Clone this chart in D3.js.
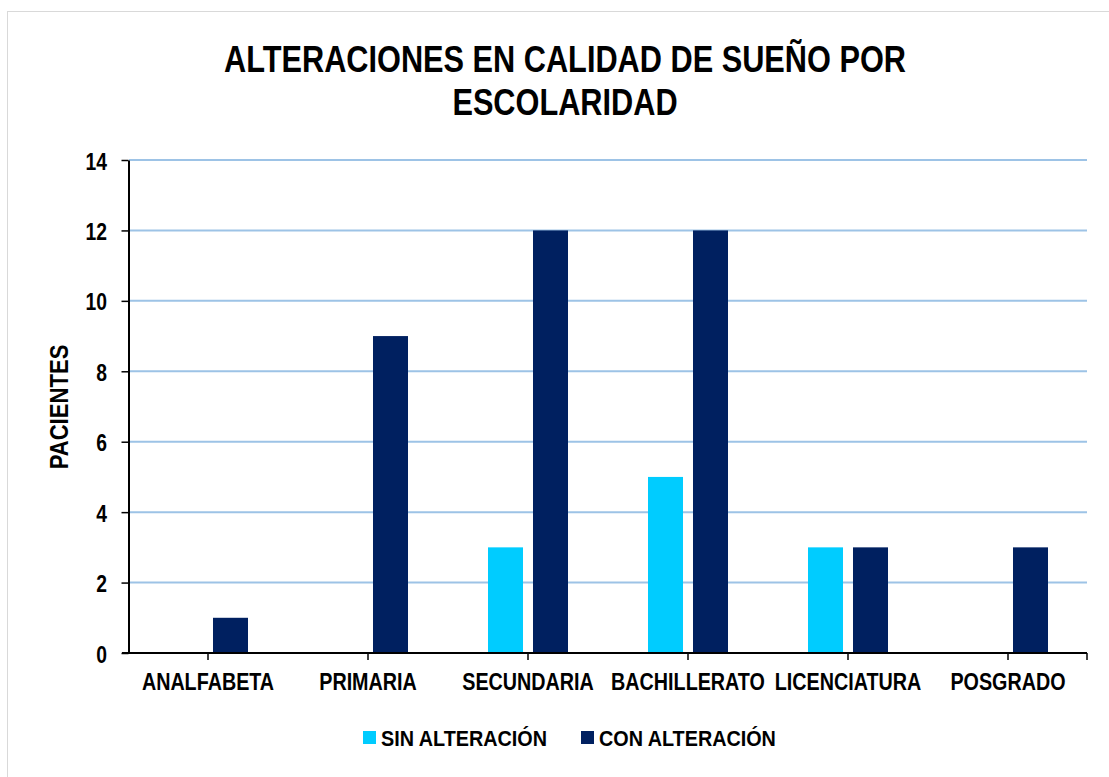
<!DOCTYPE html>
<html>
<head>
<meta charset="utf-8">
<script src="https://cdn.jsdelivr.net/npm/d3@7"></script>
<style>
  html, body { margin: 0; padding: 0; background: #fff; }
  text { font-family: "Liberation Sans Narrow", "Arial Narrow", "Liberation Sans", Arial, sans-serif; font-weight: bold; }
</style>
</head>
<body>
<script>
// chart values
const categories = ["ANALFABETA", "PRIMARIA", "SECUNDARIA", "BACHILLERATO", "LICENCIATURA", "POSGRADO"];
const seriesNames = ["SIN ALTERACIÓN", "CON ALTERACIÓN"];
const sinAlteracion = [0, 0, 3, 5, 3, 0];
const conAlteracion = [1, 9, 12, 12, 3, 3];
const yTicks = [0, 2, 4, 6, 8, 10, 12, 14];
const colors = ["#00CCFF", "#002060"];

const W = 1109, H = 777;
const NARROW = 0.84; // no narrow font installed, so squeeze the bold sans

const svg = d3.select("body").append("svg")
  .attr("width", W)
  .attr("height", H);

// helper: condensed text placed at (x, y)
function narrowText(parent, x, y, str, size, anchor, sx, rot) {
  const g = parent.append("g")
    .attr("transform", `translate(${x},${y})` + (rot ? ` rotate(${rot})` : "") + ` scale(${sx || NARROW},1)`);
  return g.append("text")
    .attr("text-anchor", anchor || "start")
    .attr("font-size", size)
    .attr("fill", "#000")
    .text(str);
}

// outer chart border (runs off the picture on the right and bottom)
svg.append("rect")
  .attr("x", 7.5).attr("y", 11.5)
  .attr("width", 1120).attr("height", 790)
  .attr("fill", "#fff")
  .attr("stroke", "#d9d9d9");

const plotL = 128, plotR = 1088, plotT = 160, plotB = 653;

const x = d3.scaleBand().domain(categories).range([plotL, plotR]);
const xs = d3.scaleBand().domain(seriesNames).range([40, 120]).paddingInner(0.222);
const y = d3.scaleLinear().domain([0, 14]).range([plotB, plotT]);

// gridlines
svg.append("g")
  .selectAll("line")
  .data(yTicks.filter(d => d > 0))
  .join("line")
  .attr("x1", plotL + 1).attr("x2", plotR - 1)
  .attr("y1", d => y(d)).attr("y2", d => y(d))
  .attr("stroke", "#9dc3e6")
  .attr("stroke-width", 2);

// bars
const rows = categories.map((c, i) => ({ cat: c, vals: [sinAlteracion[i], conAlteracion[i]] }));
svg.append("g")
  .selectAll("g")
  .data(rows)
  .join("g")
  .attr("transform", d => `translate(${x(d.cat)},0)`)
  .selectAll("rect")
  .data(d => d.vals.map((v, j) => ({ key: seriesNames[j], v, j })))
  .join("rect")
  .attr("x", d => xs(d.key))
  .attr("width", xs.bandwidth())
  .attr("y", d => y(d.v))
  .attr("height", d => y(0) - y(d.v))
  .attr("fill", d => colors[d.j]);

// y axis
const yAxis = svg.append("g")
  .attr("transform", `translate(${plotL + 0.5},0)`)
  .call(d3.axisLeft(y).tickValues(yTicks).tickSize(7).tickSizeOuter(0));
yAxis.select(".domain").attr("stroke", "#000").attr("stroke-width", 2);
yAxis.selectAll(".tick line").attr("stroke", "#000").attr("stroke-width", 1.5);
yAxis.selectAll(".tick text")
  .attr("font-size", 23)
  .attr("font-family", null)
  .attr("fill", "#000")
  .attr("x", -21.5 / NARROW)
  .attr("dy", 9)
  .attr("transform", `scale(${NARROW},1)`);

// x axis: ticks at category centres plus one at the right end
const xAxisG = svg.append("g").attr("transform", `translate(0,${plotB})`);
xAxisG.append("line")
  .attr("x1", plotL - 6).attr("x2", plotR - 1)
  .attr("stroke", "#000").attr("stroke-width", 2);
const tickXs = categories.map(c => x(c) + x.bandwidth() / 2).concat([plotR - 1]);
xAxisG.selectAll(".xt")
  .data(tickXs)
  .join("line")
  .attr("class", "xt")
  .attr("x1", d => d).attr("x2", d => d)
  .attr("y1", 0).attr("y2", 7)
  .attr("stroke", "#000").attr("stroke-width", 1.5);
categories.forEach(c => {
  narrowText(xAxisG, x(c) + x.bandwidth() / 2, 37, c, 23.5, "middle");
});

// title
narrowText(svg, 565, 72, "ALTERACIONES EN CALIDAD DE SUEÑO POR", 37, "middle", 0.83);
narrowText(svg, 565, 115, "ESCOLARIDAD", 37, "middle", 0.83);

// y axis title
narrowText(svg, 68, 407, "PACIENTES", 26, "middle", 0.85, -90);

// legend
const legendX = [363, 581];
seriesNames.forEach((s, i) => {
  svg.append("rect")
    .attr("x", legendX[i]).attr("y", 731)
    .attr("width", 13).attr("height", 13)
    .attr("fill", colors[i]);
  narrowText(svg, legendX[i] + 18, 746, s, 22, "start", 0.9);
});
</script>
</body>
</html>
